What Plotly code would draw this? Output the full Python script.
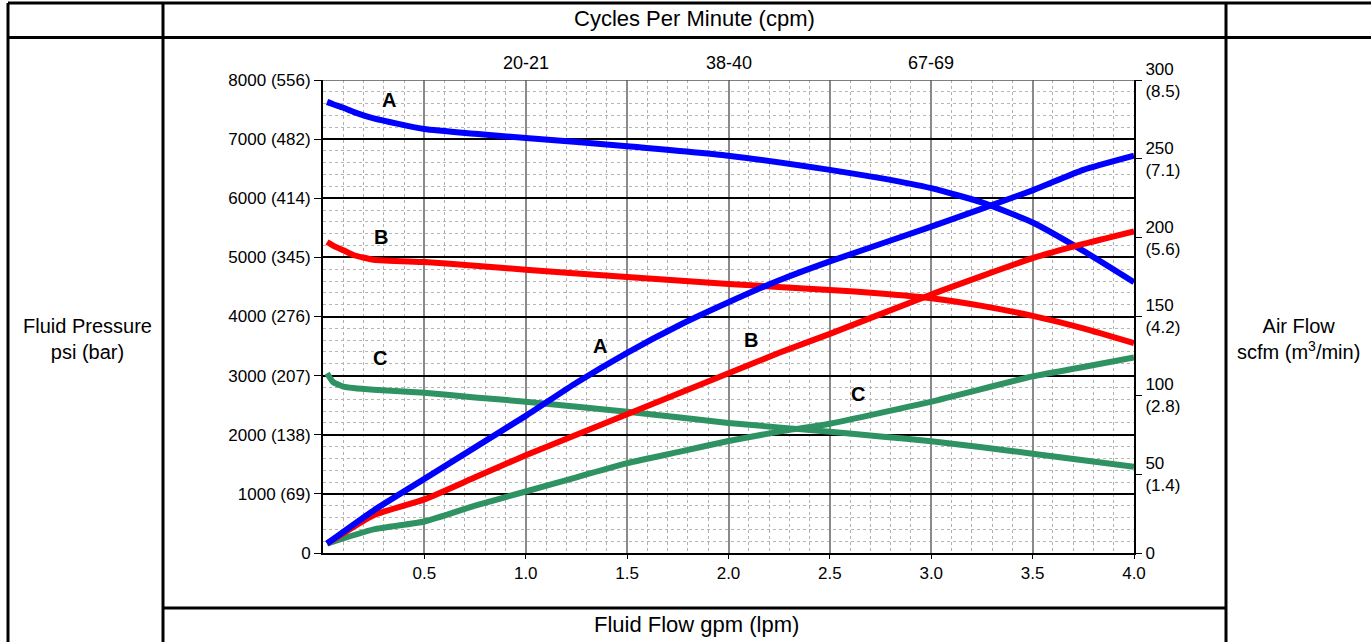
import plotly.graph_objects as go

# Fluid flow (gpm) sample points
flow_psi = [0.02, 0.05, 0.1, 0.15, 0.25, 0.5, 0.75, 1.0, 1.5, 2.0, 2.5, 2.75, 3.0, 3.25, 3.5, 3.75, 4.0]
psi_a = [7630, 7590, 7530, 7460, 7350, 7170, 7090, 7020, 6880, 6720, 6480, 6340, 6170, 5930, 5590, 5110, 4580]
psi_b = [5260, 5200, 5120, 5040, 4960, 4920, 4860, 4790, 4670, 4550, 4450, 4390, 4310, 4180, 4010, 3800, 3550]
psi_c = [3040, 2890, 2815, 2790, 2760, 2710, 2630, 2560, 2390, 2200, 2050, 1970, 1890, 1790, 1680, 1570, 1460]

flow_air = [0.02, 0.25, 0.5, 0.75, 1.0, 1.25, 1.5, 1.75, 2.0, 2.25, 2.5, 3.0, 3.5, 3.75, 4.0]
air_a = [6, 27, 47, 67, 87, 108, 127, 144, 159, 173, 185, 207, 230, 243, 252]
air_b = [6, 24, 34, 48, 62, 75, 88, 101, 114, 127, 139, 164, 187, 196, 204]
air_c = [6, 15, 20, 30, 39, 48, 57, 64, 71, 77, 82, 96, 112, 118, 124]

psi_ticks = [0, 1000, 2000, 3000, 4000, 5000, 6000, 7000, 8000]
psi_labels = ["0", "1000 (69)", "2000 (138)", "3000 (207)", "4000 (276)",
              "5000 (345)", "6000 (414)", "7000 (482)", "8000 (556)"]
air_ticks = [0, 50, 100, 150, 200, 250, 300]
air_labels = ["0", "50<br>(1.4)", "100<br>(2.8)", "150<br>(4.2)", "200<br>(5.6)",
              "250<br>(7.1)", "300<br>(8.5)"]
flow_ticks = [0.5, 1.0, 1.5, 2.0, 2.5, 3.0, 3.5, 4.0]
flow_labels = ["0.5", "1.0", "1.5", "2.0", "2.5", "3.0", "3.5", "4.0"]
cpm_pos = [1.0, 2.0, 3.0]
cpm_labels = ["20-21", "38-40", "67-69"]

# curve letters: (text, flow, psi)
curve_labels = [("A", 0.325, 7660), ("B", 0.286, 5345), ("C", 0.281, 3300),
                ("A", 1.366, 3500), ("B", 2.11, 3600), ("C", 2.64, 2690)]

W, H = 1371, 642
FONT = "Helvetica, Liberation Sans, Arial, sans-serif"
BLUE, RED, GREEN = "#0000ff", "#ff0000", "#2e9263"


def px(x):
    return x / W


def py(y):
    return 1 - y / H


fig = go.Figure()
for xs, ys, c in [(flow_psi, psi_a, BLUE), (flow_psi, psi_b, RED), (flow_psi, psi_c, GREEN)]:
    fig.add_trace(go.Scatter(x=xs, y=ys, mode="lines", showlegend=False,
                             line=dict(color=c, width=6, shape="spline", smoothing=0.5)))
for xs, ys, c in [(flow_air, air_c, GREEN), (flow_air, air_b, RED), (flow_air, air_a, BLUE)]:
    fig.add_trace(go.Scatter(x=xs, y=ys, mode="lines", yaxis="y2", showlegend=False,
                             line=dict(color=c, width=6, shape="spline", smoothing=0.5)))

annotations = []
for t, x, y in curve_labels:
    annotations.append(dict(x=x, y=y, text=f"<b>{t}</b>", showarrow=False,
                            font=dict(size=20, color="black", family=FONT)))
for x, t in zip(cpm_pos, cpm_labels):
    annotations.append(dict(x=x, y=8000, yshift=5, yanchor="bottom", text=t, showarrow=False,
                            font=dict(size=18, color="black", family=FONT)))
side = dict(showarrow=False, xref="paper", yref="paper", xanchor="center", yanchor="middle")
annotations += [
    dict(x=px(694), y=py(19), text="Cycles Per Minute (cpm)",
         font=dict(size=22, family=FONT, color="black"), **side),
    dict(x=px(697), y=py(624), text="Fluid Flow gpm (lpm)",
         font=dict(size=22, family=FONT, color="black"), **side),
    dict(x=px(87), y=py(339), text="Fluid Pressure<br>psi (bar)",
         font=dict(size=20, family=FONT, color="black"), **side),
    dict(x=px(1298), y=py(339), text="Air Flow<br>scfm (m<sup>3</sup>/min)",
         font=dict(size=20, family=FONT, color="black"), **side),
]

# table frame
frame = [
    (8, 3, 8, 642), (163, 3, 163, 642), (1226, 3, 1226, 642),
    (8, 3, 1371, 3), (8, 37.5, 1371, 37.5), (163, 608, 1226, 608),
]
shapes = [dict(type="line", xref="paper", yref="paper", x0=px(a), y0=py(b), x1=px(c), y1=py(d),
               line=dict(color="black", width=3)) for a, b, c, d in frame]
shapes.append(dict(type="line", xref="x", yref="y", x0=0, x1=4, y0=8000, y1=8000,
                   line=dict(color="#555", width=1.5)))

fig.update_layout(
    width=W, height=H, margin=dict(l=0, r=0, t=0, b=0, autoexpand=False),
    paper_bgcolor="white", plot_bgcolor="white",
    font=dict(family=FONT, size=18, color="black"),
    xaxis=dict(domain=[px(323), px(1134)], range=[0, 4.0], tickvals=flow_ticks, ticktext=flow_labels,
               showgrid=True, gridcolor="#8a8a8a", gridwidth=1.5, zeroline=False,
               showline=True, linecolor="black", linewidth=2, ticks="outside", ticklen=4,
               tickcolor="black", tickfont=dict(size=17), automargin=False,
               minor=dict(dtick=0.1, tick0=0, showgrid=True, gridcolor="#b0b0b0", griddash="dot",
                          gridwidth=1)),
    yaxis=dict(domain=[py(553), py(80)], range=[0, 8000], tickvals=psi_ticks, ticktext=psi_labels,
               showgrid=True, gridcolor="black", gridwidth=1.5, zeroline=False,
               showline=True, linecolor="black", linewidth=2, ticks="outside", ticklen=7,
               tickcolor="black", tickfont=dict(size=17), automargin=False,
               minor=dict(dtick=200, tick0=0, showgrid=True, gridcolor="#b5b5b5", griddash="dot",
                          gridwidth=1)),
    yaxis2=dict(overlaying="y", side="right", range=[0, 300], tickvals=air_ticks, ticktext=air_labels,
                showgrid=False, zeroline=False, showline=True, linecolor="black", linewidth=2,
                ticks="outside", ticklen=6, tickcolor="black", tickfont=dict(size=17),
                automargin=False),
    annotations=annotations, shapes=shapes,
)

fig.write_html("out.html", config={"displayModeBar": False},
               post_script="document.body.style.margin='0';")
